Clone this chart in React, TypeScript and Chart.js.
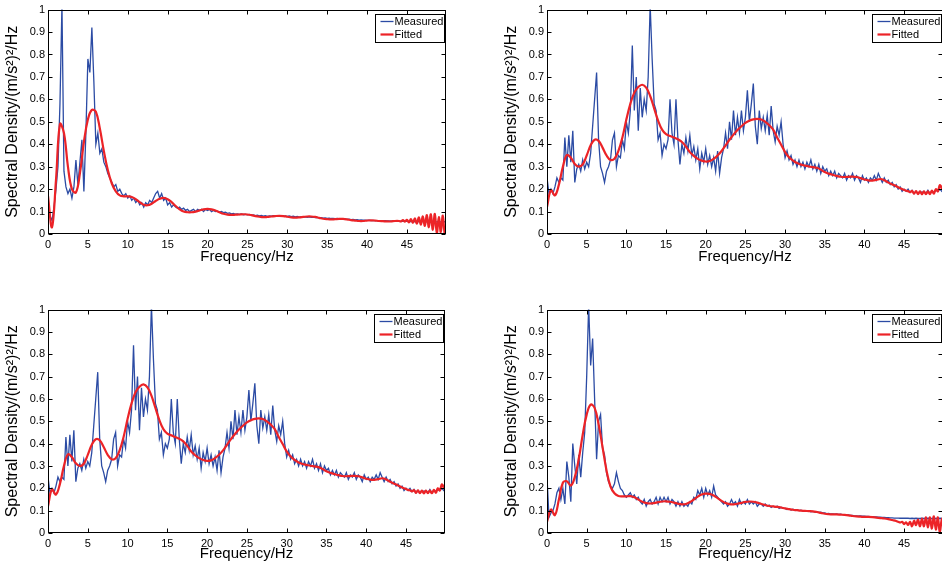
import React, { useEffect, useRef } from 'react';
import { Chart, registerables } from 'chart.js';

Chart.register(...registerables);
Chart.defaults.font.family = "'Liberation Sans', Arial, Helvetica, sans-serif";
Chart.defaults.color = '#000';

// sampling grids (Hz)
const measuredStep = 0.25;
const fitStep = 0.5;
const fitTailStart = 44;
const fitTailStep = 0.25;

const xTicks = [0, 5, 10, 15, 20, 25, 30, 35, 40, 45];
const xTickLabels = ['0', '5', '10', '15', '20', '25', '30', '35', '40', '45'];
const yTicks = [0, 0.1, 0.2, 0.3, 0.4, 0.5, 0.6, 0.7, 0.8, 0.9, 1];
const yTickLabels = ['0', '0.1', '0.2', '0.3', '0.4', '0.5', '0.6', '0.7', '0.8', '0.9', '1'];

const seriesNames = ['Measured', 'Fitted'];
const xTitle = 'Frequency/Hz';
const yTitle = 'Spectral Density/(m/s\u00B2)\u00B2/Hz';

// ---- Panel A (top-left) ----
const measuredA = [
  0.15, 0.08, 0.06, 0.12, 0.2, 0.3, 0.58, 1.02, 0.28, 0.21, 0.18, 0.2, 0.16, 0.21, 0.33, 0.22, 0.32, 0.42, 0.19, 0.45,
  0.78, 0.72, 0.92, 0.68, 0.4, 0.45, 0.36, 0.38, 0.32, 0.3, 0.27, 0.25, 0.23, 0.21, 0.22, 0.19, 0.2, 0.18, 0.17, 0.18,
  0.16, 0.17, 0.15, 0.16, 0.14, 0.15, 0.13, 0.14, 0.12, 0.14, 0.13, 0.15, 0.14, 0.16, 0.18, 0.19, 0.16, 0.18, 0.15, 0.16,
  0.13, 0.14, 0.12, 0.13, 0.12, 0.115, 0.12, 0.11, 0.115, 0.105, 0.11, 0.1, 0.105, 0.11, 0.1, 0.11, 0.105, 0.11, 0.1, 0.11,
  0.105, 0.11, 0.1, 0.105, 0.1, 0.102, 0.097, 0.1, 0.095, 0.097, 0.092, 0.094, 0.09, 0.092, 0.088, 0.09, 0.087, 0.089, 0.086, 0.088,
  0.085, 0.087, 0.084, 0.085, 0.082, 0.084, 0.081, 0.083, 0.08, 0.082, 0.079, 0.081, 0.08, 0.082, 0.079, 0.081, 0.08, 0.082, 0.079, 0.081,
  0.078, 0.08, 0.077, 0.079, 0.076, 0.078, 0.075, 0.077, 0.075, 0.076, 0.074, 0.076, 0.074, 0.075, 0.073, 0.074, 0.072, 0.073, 0.071, 0.072,
  0.07, 0.071, 0.069, 0.07, 0.068, 0.069, 0.067, 0.068, 0.066, 0.067, 0.065, 0.066, 0.064, 0.065, 0.063, 0.064, 0.062, 0.063, 0.062, 0.062,
  0.061, 0.062, 0.06, 0.061, 0.06, 0.06, 0.059, 0.06, 0.058, 0.059, 0.058, 0.058, 0.057, 0.058, 0.057, 0.057, 0.057, 0.056, 0.057, 0.056,
  0.056, 0.056, 0.055, 0.056, 0.055, 0.055, 0.055, 0.055, 0.055, 0.055, 0.054, 0.055, 0.054, 0.055, 0.054, 0.054, 0.055, 0.054, 0.054, 0.055,
  0.054,
];
const fittedA = [
  0.17, 0.03, 0.24, 0.49, 0.45, 0.3, 0.2, 0.185, 0.27, 0.41,
  0.51, 0.553, 0.545, 0.47, 0.37, 0.285, 0.225, 0.19, 0.172, 0.168,
  0.168, 0.165, 0.155, 0.142, 0.13, 0.128, 0.135, 0.147, 0.157, 0.161,
  0.155, 0.142, 0.125, 0.11, 0.1, 0.097, 0.097, 0.1, 0.105, 0.11,
  0.112, 0.11, 0.105, 0.097, 0.09, 0.086, 0.085, 0.086, 0.087, 0.088,
  0.087, 0.084, 0.08, 0.077, 0.075, 0.076, 0.078, 0.08, 0.081, 0.08,
  0.077, 0.074, 0.073, 0.074, 0.076, 0.078, 0.078, 0.076, 0.072, 0.068,
  0.066, 0.065, 0.066, 0.067, 0.067, 0.065, 0.062, 0.06, 0.058, 0.058,
  0.06, 0.061, 0.06, 0.058, 0.057, 0.056, 0.056, 0.058, 0.058,
];
const fittedTailA = [
  0.056, 0.062, 0.055, 0.063, 0.052, 0.066, 0.05, 0.07, 0.046, 0.074, 0.042, 0.078,
  0.036, 0.084, 0.03, 0.088, 0.018, 0.09, 0.004, 0.075, 0.008, 0.082, 0.0, 0.05,
];

// ---- Panel B (top-right and bottom-left, same record) ----
const measuredB = [
  0.25, 0.18, 0.2, 0.18, 0.21, 0.25, 0.23, 0.25, 0.24, 0.43, 0.3, 0.44, 0.32, 0.46, 0.23, 0.29, 0.31, 0.28, 0.33, 0.29,
  0.32, 0.3, 0.36, 0.48, 0.6, 0.72, 0.42, 0.3, 0.27, 0.23, 0.28, 0.3, 0.33, 0.42, 0.45, 0.3, 0.35, 0.34, 0.42, 0.38,
  0.5, 0.45, 0.55, 0.84, 0.55, 0.7, 0.46, 0.65, 0.52, 0.6, 0.55, 0.7, 1.02, 0.78, 0.58, 0.55, 0.42, 0.45, 0.35, 0.4,
  0.38, 0.42, 0.6, 0.45, 0.4, 0.6, 0.42, 0.31, 0.4, 0.36, 0.43, 0.37, 0.44, 0.35, 0.39, 0.33, 0.38, 0.29, 0.36, 0.32,
  0.38, 0.31, 0.35, 0.3, 0.34, 0.28, 0.37, 0.27, 0.34, 0.38, 0.45, 0.38, 0.5, 0.42, 0.55, 0.44, 0.52, 0.45, 0.55, 0.46,
  0.52, 0.64, 0.5, 0.58, 0.67, 0.48, 0.4, 0.55, 0.47, 0.52, 0.46, 0.53, 0.44, 0.57, 0.46, 0.41, 0.48, 0.44, 0.5, 0.4,
  0.34, 0.37, 0.33, 0.35, 0.31, 0.33, 0.3, 0.33, 0.3, 0.32, 0.29, 0.32, 0.3, 0.33, 0.29, 0.31, 0.28, 0.31, 0.27, 0.3,
  0.28, 0.29, 0.26, 0.28, 0.26, 0.28, 0.25, 0.27, 0.26, 0.25, 0.27, 0.24, 0.26, 0.25, 0.27, 0.24, 0.26, 0.25, 0.23, 0.26,
  0.24, 0.25, 0.23, 0.25, 0.24, 0.26, 0.24, 0.27, 0.25, 0.23, 0.25, 0.23, 0.24, 0.22, 0.23, 0.21, 0.22, 0.2, 0.21, 0.19,
  0.2, 0.19, 0.2, 0.185, 0.195, 0.18, 0.19, 0.18, 0.19, 0.185, 0.19, 0.18, 0.195, 0.18, 0.19, 0.185, 0.195, 0.19, 0.2, 0.19,
  0.2,
];
const fittedB = [
  0.12, 0.195, 0.172, 0.22, 0.3, 0.352, 0.34, 0.312, 0.3, 0.31,
  0.35, 0.395, 0.42, 0.415, 0.385, 0.35, 0.33, 0.335, 0.37, 0.43,
  0.51, 0.58, 0.63, 0.655, 0.665, 0.652, 0.615, 0.56, 0.505, 0.465,
  0.445, 0.437, 0.43, 0.422, 0.41, 0.39, 0.365, 0.348, 0.335, 0.327,
  0.323, 0.325, 0.335, 0.35, 0.37, 0.395, 0.42, 0.443, 0.463, 0.48,
  0.495, 0.505, 0.511, 0.513, 0.51, 0.5, 0.485, 0.465, 0.43, 0.398,
  0.365, 0.342, 0.327, 0.316, 0.309, 0.305, 0.301, 0.298, 0.295, 0.287,
  0.276, 0.269, 0.264, 0.259, 0.255, 0.254, 0.255, 0.256, 0.254, 0.249,
  0.243, 0.239, 0.238, 0.241, 0.245, 0.24, 0.229, 0.221, 0.213,
];
const fittedTailB = [
  0.208, 0.204, 0.2, 0.197, 0.193, 0.191, 0.186, 0.192, 0.18, 0.191, 0.178, 0.19,
  0.177, 0.19, 0.178, 0.19, 0.178, 0.193, 0.18, 0.2, 0.19, 0.218, 0.205, 0.228,
];

// ---- Panel C (bottom-right) ----
const measuredC = [
  0.25, 0.07, 0.09, 0.1, 0.13, 0.18, 0.2, 0.15, 0.2, 0.13, 0.32, 0.25, 0.14, 0.4, 0.3, 0.22, 0.35, 0.25, 0.36, 0.45,
  0.7, 1.02, 0.75, 0.87, 0.6, 0.33, 0.5, 0.53, 0.38, 0.35, 0.27, 0.23, 0.21, 0.2, 0.22, 0.27, 0.23, 0.2, 0.19, 0.17,
  0.16, 0.17, 0.18, 0.16, 0.17, 0.15, 0.16, 0.14, 0.13, 0.15, 0.12, 0.14, 0.15, 0.13, 0.14, 0.16, 0.13, 0.16, 0.14, 0.16,
  0.14, 0.16, 0.13, 0.15, 0.14, 0.12, 0.14, 0.12, 0.14, 0.12, 0.13, 0.12, 0.14, 0.13, 0.16, 0.15, 0.19, 0.17, 0.2, 0.16,
  0.2, 0.17, 0.19, 0.16, 0.21, 0.17, 0.16, 0.15, 0.14, 0.13, 0.14, 0.12, 0.13, 0.15, 0.13, 0.14, 0.12, 0.15, 0.13, 0.14,
  0.13, 0.15, 0.13, 0.14, 0.13, 0.14, 0.12, 0.13, 0.13, 0.12, 0.13, 0.12, 0.125, 0.115, 0.12, 0.115, 0.12, 0.11, 0.115, 0.11,
  0.11, 0.105, 0.108, 0.103, 0.106, 0.101, 0.104, 0.1, 0.102, 0.098, 0.1, 0.097, 0.099, 0.095, 0.097, 0.094, 0.095, 0.092, 0.093, 0.09,
  0.09, 0.087, 0.088, 0.085, 0.086, 0.084, 0.085, 0.083, 0.084, 0.082, 0.082, 0.08, 0.081, 0.079, 0.079, 0.077, 0.077, 0.076, 0.076, 0.075,
  0.075, 0.074, 0.074, 0.073, 0.073, 0.072, 0.072, 0.071, 0.071, 0.07, 0.07, 0.069, 0.069, 0.068, 0.068, 0.067, 0.067, 0.067, 0.066, 0.066,
  0.066, 0.066, 0.066, 0.065, 0.066, 0.065, 0.066, 0.065, 0.065, 0.066, 0.065, 0.065, 0.066, 0.065, 0.065, 0.066, 0.065, 0.065, 0.066, 0.065,
  0.065,
];
const fittedC = [
  0.05, 0.105, 0.08, 0.15, 0.225, 0.232, 0.212, 0.25, 0.33, 0.44,
  0.53, 0.575, 0.56, 0.487, 0.384, 0.28, 0.208, 0.178, 0.166, 0.164,
  0.164, 0.165, 0.16, 0.15, 0.14, 0.134, 0.132, 0.134, 0.138, 0.141,
  0.142, 0.14, 0.136, 0.131, 0.128, 0.13, 0.138, 0.15, 0.163, 0.172,
  0.176, 0.175, 0.168, 0.156, 0.144, 0.134, 0.129, 0.128, 0.131, 0.135,
  0.139, 0.141, 0.14, 0.136, 0.13, 0.125, 0.121, 0.119, 0.117, 0.114,
  0.11, 0.107, 0.104, 0.102, 0.1, 0.099, 0.098, 0.097, 0.094, 0.09,
  0.086, 0.084, 0.083, 0.083, 0.082, 0.081, 0.079, 0.076, 0.074, 0.073,
  0.072, 0.072, 0.071, 0.069, 0.067, 0.065, 0.062, 0.058, 0.054,
];
const fittedTailC = [
  0.05, 0.047, 0.05, 0.04, 0.048, 0.036, 0.05, 0.03, 0.055, 0.035, 0.06, 0.03,
  0.065, 0.03, 0.07, 0.025, 0.07, 0.02, 0.075, 0.015, 0.07, 0.0, 0.065, 0.0,
];

const BLUE = '#2b4ba4';
const RED = '#ec2327';

function toPoints(values: number[], step: number, start: number) {
  return values.map((v, i) => ({ x: start + i * step, y: v }));
}

const matlabFrame = {
  id: 'matlabFrame',
  afterDatasetsDraw(chart: any) {
    const { ctx, chartArea: ca, scales } = chart;
    const xs = scales.x;
    const ys = scales.y;
    ctx.save();
    ctx.strokeStyle = '#000';
    ctx.lineWidth = 1;
    const L = Math.round(ca.left) + 0.5;
    const R = Math.round(ca.right) - 0.5;
    const T = Math.round(ca.top) + 0.5;
    const B = Math.round(ca.bottom) - 0.5;
    ctx.beginPath();
    for (const t of xs.ticks) {
      const px = Math.round(xs.getPixelForValue(t.value)) + 0.5;
      ctx.moveTo(px, B);
      ctx.lineTo(px, B - 4);
      ctx.moveTo(px, T);
      ctx.lineTo(px, T + 4);
    }
    for (const t of ys.ticks) {
      const py = Math.round(ys.getPixelForValue(t.value)) + 0.5;
      ctx.moveTo(L, py);
      ctx.lineTo(L + 4, py);
      ctx.moveTo(R, py);
      ctx.lineTo(R - 4, py);
    }
    ctx.stroke();
    ctx.strokeRect(L, T, R - L, B - T);

    // legend box (inside plot, top-right)
    const bw = 69;
    const bh = 28;
    const bx = Math.round(ca.right) - 2 - bw + 0.5;
    const by = Math.round(ca.top) + 4 + 0.5;
    ctx.fillStyle = '#fff';
    ctx.fillRect(bx, by, bw, bh);
    ctx.strokeStyle = '#000';
    ctx.lineWidth = 1;
    ctx.strokeRect(bx, by, bw, bh);
    ctx.font = "11px 'Liberation Sans', Arial, sans-serif";
    ctx.textBaseline = 'middle';
    ctx.textAlign = 'left';
    chart.data.datasets.forEach((ds: any, i: number) => {
      const ly = by + 7 + i * 13;
      ctx.strokeStyle = ds.borderColor;
      ctx.lineWidth = ds.borderWidth;
      ctx.beginPath();
      ctx.moveTo(bx + 5, ly);
      ctx.lineTo(bx + 18, ly);
      ctx.stroke();
      ctx.fillStyle = '#000';
      ctx.fillText(ds.label, bx + 19, ly + 0.5);
    });
    ctx.restore();
  },
};

type PanelProps = {
  left: number;
  top: number;
  plotW: number;
  plotH: number;
  xTitlePad: number;
  measured: number[];
  fitted: number[];
  fittedTail: number[];
};

const AXIS_W = 48;
const AXIS_H = 49;
const PAD_TOP = 8;
const PAD_RIGHT = 24;

function Panel({ left, top, plotW, plotH, xTitlePad, measured, fitted, fittedTail }: PanelProps) {
  const ref = useRef<HTMLCanvasElement>(null);
  const W = AXIS_W + plotW + PAD_RIGHT;
  const H = PAD_TOP + plotH + AXIS_H;

  useEffect(() => {
    if (!ref.current) return;
    const fitPoints = [
      ...toPoints(fitted, fitStep, 0),
      ...toPoints(fittedTail, fitTailStep, fitTailStart + fitTailStep),
    ];
    const chart = new Chart(ref.current, {
      type: 'line',
      data: {
        datasets: [
          {
            label: seriesNames[0],
            data: toPoints(measured, measuredStep, 0),
            borderColor: BLUE,
            backgroundColor: BLUE,
            borderWidth: 1.3,
            pointRadius: 0,
            tension: 0,
            order: 1,
            clip: 0,
          } as any,
          {
            label: seriesNames[1],
            data: fitPoints,
            borderColor: RED,
            backgroundColor: RED,
            borderWidth: 2.2,
            pointRadius: 0,
            tension: 0.4,
            order: 0,
            clip: 0,
          } as any,
        ],
      },
      options: {
        animation: false,
        responsive: false,
        events: [],
        layout: { padding: { left: 0, top: PAD_TOP, right: PAD_RIGHT, bottom: 0 } },
        scales: {
          x: {
            type: 'linear',
            min: 0,
            max: 49.9,
            afterBuildTicks: (s: any) => {
              s.ticks = xTicks.map((v) => ({ value: v }));
            },
            afterFit: (s: any) => {
              s.height = AXIS_H;
            },
            grid: { display: false, drawTicks: false },
            border: { display: false },
            ticks: {
              padding: 4,
              color: '#000',
              font: { size: 11 },
              maxRotation: 0,
              autoSkip: false,
              callback: (_v: any, i: number) => xTickLabels[i],
            },
            title: {
              display: true,
              text: xTitle,
              color: '#000',
              font: { size: 15 },
              padding: { top: 0, bottom: xTitlePad },
            },
          },
          y: {
            type: 'linear',
            min: 0,
            max: 1,
            afterBuildTicks: (s: any) => {
              s.ticks = yTicks.map((v) => ({ value: v }));
            },
            afterFit: (s: any) => {
              s.width = AXIS_W;
            },
            grid: { display: false, drawTicks: false },
            border: { display: false },
            ticks: {
              padding: 3,
              color: '#000',
              font: { size: 11 },
              autoSkip: false,
              callback: (_v: any, i: number) => yTickLabels[i],
            },
            title: {
              display: true,
              text: yTitle,
              color: '#000',
              font: { size: 16 },
              padding: { top: 3, bottom: 0 },
            },
          },
        },
        plugins: {
          legend: { display: false },
          tooltip: { enabled: false },
        },
      } as any,
      plugins: [matlabFrame],
    });
    return () => chart.destroy();
  }, []);

  return (
    <canvas
      ref={ref}
      width={W}
      height={H}
      style={{ position: 'absolute', left, top, width: W, height: H }}
    />
  );
}

export default function App() {
  return (
    <div
      style={{
        position: 'absolute',
        left: 0,
        top: 0,
        width: 942,
        height: 566,
        overflow: 'hidden',
        background: '#fff',
      }}
    >
      <Panel left={0} top={0} plotW={398} plotH={226} xTitlePad={17} measured={measuredA} fitted={fittedA} fittedTail={fittedTailA} />
      <Panel left={499} top={0} plotW={396} plotH={226} xTitlePad={17} measured={measuredB} fitted={fittedB} fittedTail={fittedTailB} />
      <Panel left={0} top={300} plotW={397} plotH={225} xTitlePad={19} measured={measuredB} fitted={fittedB} fittedTail={fittedTailB} />
      <Panel left={499} top={300} plotW={396} plotH={225} xTitlePad={19} measured={measuredC} fitted={fittedC} fittedTail={fittedTailC} />
    </div>
  );
}
